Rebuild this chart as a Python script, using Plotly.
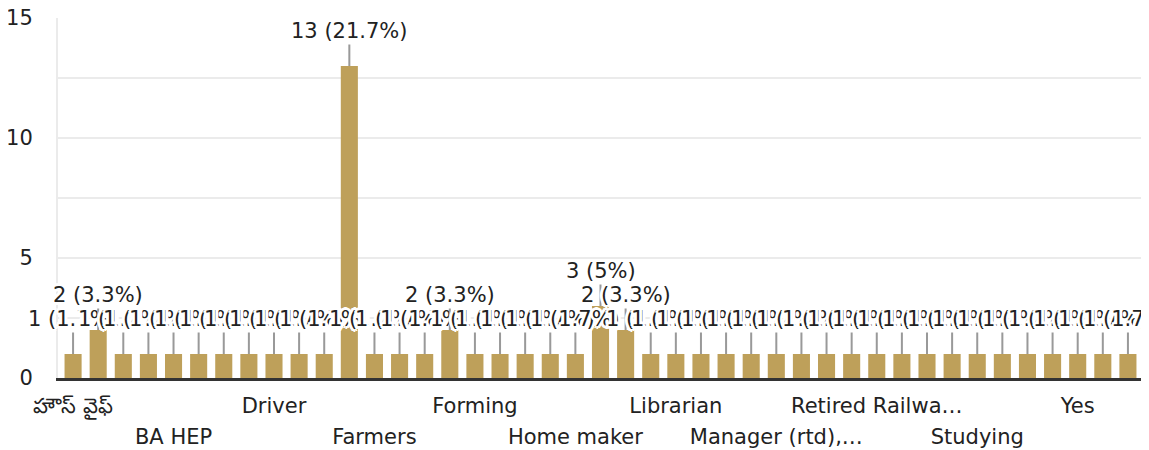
import plotly.graph_objects as go

# ---- data ----
categories = [
    "హౌస్ వైఫ్", None, None, None, "BA HEP", None, None, None,
    "Driver", None, None, None, "Farmers", None, None, None,
    "Forming", None, None, None, "Home maker", None, None, None,
    "Librarian", None, None, None, "Manager (rtd),…", None, None, None,
    "Retired Railwa…", None, None, None, "Studying", None, None, None,
    "Yes", None, None,
]
values = [
    1, 2, 1, 1, 1, 1, 1, 1, 1, 1, 1, 13, 1, 1, 1, 2,
    1, 1, 1, 1, 1, 3, 2, 1, 1, 1, 1, 1, 1, 1, 1, 1,
    1, 1, 1, 1, 1, 1, 1, 1, 1, 1, 1,
]
y_ticks = [0, 5, 10, 15]

total = sum(values)
idx = list(range(len(values)))

def fmt(v):
    p = round(v / total * 100, 1)
    ps = f"{p:.1f}".rstrip("0").rstrip(".")
    return f"{v} ({ps}%)"

FONT = "DejaVu Sans"
BAR = "#bea05a"
TXT = "#222222"
halo = ", ".join(
    f"white {dx}px {dy}px 0px"
    for dx, dy in [(2, 0), (-2, 0), (0, 2), (0, -2), (2, 2), (-2, -2), (2, -2), (-2, 2), (3, 0), (-3, 0), (0, 3), (0, -3)]
)

fig = go.Figure()
fig.add_trace(go.Bar(x=idx, y=values, marker=dict(color=BAR, line=dict(width=0)),
                     hoverinfo="skip"))

# second row of staggered labels on an overlaying axis
fig.add_trace(go.Bar(x=idx, y=[None] * len(idx), xaxis="x2", hoverinfo="skip", showlegend=False))

tick_idx = [i for i, c in enumerate(categories) if c]
row1 = [i for k, i in enumerate(tick_idx) if k % 2 == 0]
row2 = [i for k, i in enumerate(tick_idx) if k % 2 == 1]

annotations = []
for i, v in zip(idx, values):
    annotations.append(dict(
        x=i, y=v, xref="x", yref="y", text=fmt(v),
        showarrow=True, arrowhead=0, arrowwidth=2, arrowcolor="#999999",
        ax=0, ay=-35, standoff=0,
        font=dict(family=FONT, size=21, color=TXT, shadow=halo),
    ))

fig.update_layout(
    width=1141, height=442,
    margin=dict(l=50, r=6, t=10, b=72, autoexpand=False),
    paper_bgcolor="white", plot_bgcolor="white",
    showlegend=False, bargap=0.32,
    font=dict(family=FONT, size=21, color=TXT),
    annotations=annotations,
    xaxis=dict(
        range=[-0.6, len(values) - 0.4], tickmode="array",
        tickvals=row1, ticktext=[categories[i] for i in row1],
        showgrid=False, zeroline=False, showline=True, linecolor="#333333", linewidth=3,
        ticks="", ticklabelstandoff=7, tickfont=dict(size=21, color=TXT, family=FONT),
        fixedrange=True, automargin=False, ticklabeloverflow="allow",
    ),
    xaxis2=dict(
        overlaying="x", matches="x", anchor="y", side="bottom",
        tickmode="array", tickvals=row2, ticktext=[categories[i] for i in row2],
        showgrid=False, zeroline=False, showline=False, ticks="",
        ticklabelstandoff=44, tickfont=dict(size=21, color=TXT, family=FONT),
        automargin=False, ticklabeloverflow="allow",
    ),
    yaxis=dict(
        range=[0, 15], tickmode="array", tickvals=y_ticks,
        showgrid=True, gridcolor="#ebebeb", gridwidth=2,
        minor=dict(dtick=2.5, tick0=0, showgrid=True, gridcolor="#ebebeb", gridwidth=2),
        zeroline=False, showline=True, mirror=True, linecolor="#ebebeb", linewidth=2,
        ticks="", ticklabelstandoff=19, tickfont=dict(size=21, color=TXT, family=FONT),
        automargin=False, ticklabeloverflow="allow",
    ),
)

fig.write_html("out.html")
